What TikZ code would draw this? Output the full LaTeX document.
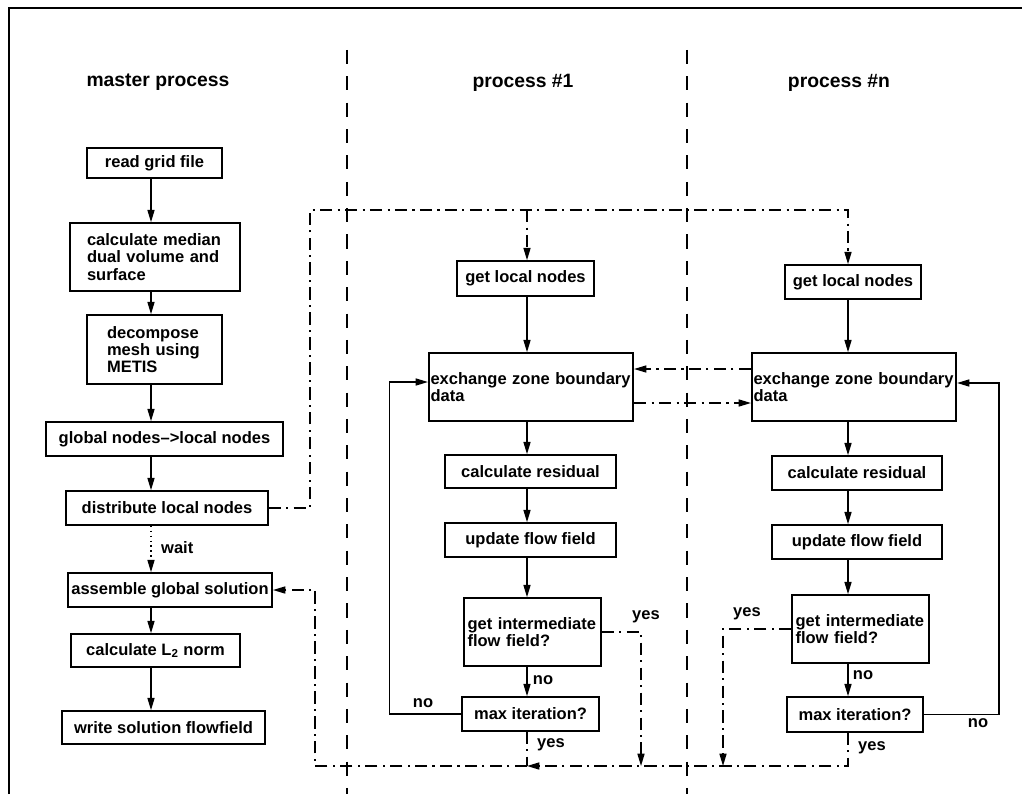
\documentclass[tikz,border=0pt]{standalone}
\usepackage{fontspec}
\setmainfont{Liberation Sans}
\usepackage{tikz}
\usetikzlibrary{arrows.meta,positioning,calc}

\begin{document}
\begin{tikzpicture}[>={Triangle[length=7pt,width=4pt]}, x=0.02cm, y=-0.02cm,
  font=\fontsize{9.4}{9.8}\selectfont\bfseries,
  box/.style={draw,line width=0.9pt,inner sep=2pt,minimum height=0.68cm},
  tall/.style={box,minimum height=1.36cm,align=left},
  flow/.style={->,line width=0.8pt},
  dd/.style={line width=0.8pt,dash pattern=on 7pt off 3pt on 1.2pt off 3pt},
  sep/.style={line width=1.1pt,dash pattern=on 8pt off 7pt},
  title/.style={font=\fontsize{11}{13}\selectfont\bfseries}]
\useasboundingbox (0,0) rectangle (1026,794);
% frame and column separators
\draw[line width=0.9pt] (9,794) -- (9,8) -- (1022,8);
\draw[sep] (347,50) -- (347,794);
\draw[sep] (687,50) -- (687,794);
% column titles
\node[title] (tmaster) at (158,82) {master process};
\node[title] (tone) at (523,83) {process \#1};
\node[title] (tn) at (839,83) {process \#n};
% arrow columns
\coordinate (mcol) at (151,0);
\coordinate (col1) at (527,0);
\coordinate (coln) at (848,0);

% master process
\node[box,minimum width=2.7cm,minimum height=0.6cm] (read) at (154.5,163) {read grid file};
\node[tall,minimum width=3.4cm,text width=2.72cm] (median) at (155,257) {calculate median\\dual volume and\\surface};
\node[tall,minimum width=2.7cm,minimum height=1.38cm,text width=1.9cm] (decomp) at (154.5,349.5) {decompose\\mesh using\\METIS};
\node[box,minimum width=4.74cm] (global) at (164.5,439) {global nodes-->local nodes};
\node[box,minimum width=4.04cm] (dist) at (167,508) {distribute local nodes};
\node[box,minimum width=4.08cm] (asm) at (170,590) {assemble global solution};
\node[box,minimum width=3.38cm,minimum height=0.66cm] (norm) at (155.5,650.5) {calculate L\textsubscript{2} norm};
\node[box,minimum width=4.06cm,minimum height=0.66cm] (write) at (163.5,727.5) {write solution flowfield};

\draw[flow] (read.south -| mcol) -- (median.north -| mcol);
\draw[flow] (median.south -| mcol) -- (decomp.north -| mcol);
\draw[flow] (decomp.south -| mcol) -- (global.north -| mcol);
\draw[flow] (global.south -| mcol) -- (dist.north -| mcol);
\draw[flow,dotted] (dist.south -| mcol) -- (asm.north -| mcol);
\node[anchor=west] (wait) at (155,548) {wait};
\draw[flow] (asm.south -| mcol) -- (norm.north -| mcol);
\draw[flow] (norm.south -| mcol) -- (write.north -| mcol);

% process #1
\node[box,minimum width=2.74cm,minimum height=0.7cm] (get1) at (525.5,278.5) {get local nodes};
\node[tall,minimum width=4.08cm,inner xsep=1pt,text width=4.02cm] (exch1) at (531,387) {exchange zone boundary\\data\\[6pt]};
\node[box,minimum width=3.42cm,minimum height=0.66cm] (res1) at (530.5,471.5) {calculate residual};
\node[box,minimum width=3.42cm] (upd1) at (530.5,540) {update flow field};
\node[tall,minimum width=2.74cm,text width=2.6cm] (int1) at (532.5,632) {get intermediate\\flow field?};
\node[box,minimum width=2.74cm] (max1) at (530.5,714) {max iteration?};

\draw[flow] (get1.south -| col1) -- (exch1.north -| col1);
\draw[flow] (exch1.south -| col1) -- (res1.north -| col1);
\draw[flow] (res1.south -| col1) -- (upd1.north -| col1);
\draw[flow] (upd1.south -| col1) -- (int1.north -| col1);
\draw[flow] (int1.south -| col1) -- (max1.north -| col1);
\node (no1) at (543,680) {no};
\draw[flow] (max1.west) -- ++(-72,0) |- ([yshift=0.1cm]exch1.west);
\node (loop1) at (423,703) {no};

% process #n
\node[box,minimum width=2.72cm] (getn) at (853,282) {get local nodes};
\node[tall,minimum width=4.08cm,inner xsep=1pt,text width=4.02cm] (exchn) at (854,387) {exchange zone boundary\\data\\[6pt]};
\node[box,minimum width=3.4cm] (resn) at (857,473) {calculate residual};
\node[box,minimum width=3.4cm] (updn) at (857,542) {update flow field};
\node[tall,minimum width=2.7cm,text width=2.6cm] (intn) at (860.5,629) {get intermediate\\flow field?};
\node[box,minimum width=2.72cm,minimum height=0.7cm] (maxn) at (855,714.5) {max iteration?};

\draw[flow] (getn.south -| coln) -- (exchn.north -| coln);
\draw[flow] (exchn.south -| coln) -- (resn.north -| coln);
\draw[flow] (resn.south -| coln) -- (updn.north -| coln);
\draw[flow] (updn.south -| coln) -- (intn.north -| coln);
\draw[flow] (intn.south -| coln) -- (maxn.north -| coln);
\node (non) at (863,675) {no};
\draw[flow] (maxn.east) -- ++(75,0) |- ([yshift=0.08cm]exchn.east);
\node (loopn) at (978,723) {no};

% distribution of local nodes
\coordinate (fan) at (310,210);
\draw[dd,->] (dist.east) -| (fan) -| (getn.north -| coln);
\draw[dd,->] (fan -| col1) -- (get1.north -| col1);

% boundary exchange
\draw[dd,->] ([yshift=0.36cm]exchn.west) -- ([yshift=0.36cm]exch1.east);
\draw[dd,->] ([yshift=-0.32cm]exch1.east) -- ([yshift=-0.32cm]exchn.west);

% collecting the solution
\coordinate (sink) at (315,766);
\coordinate (j1) at (641,766);
\coordinate (jn) at (723,766);
\draw[dd,->] (int1.east) -| (j1);
\node (yes1) at (646,617) {yes};
\draw[dd,->] (intn.west) -| (jn);
\node (yesn) at (747,614) {yes};
\draw[dd] (max1.south -| col1) -- (col1 |- sink);
\node (ok1) at (551,745) {yes};
\node (okn) at (872,748) {yes};
\draw[dd,->] (maxn.south -| coln) |- (col1 |- sink);
\draw[dd,->] (col1 |- sink) -- (sink) |- (asm.east);
\end{tikzpicture}
\end{document}
